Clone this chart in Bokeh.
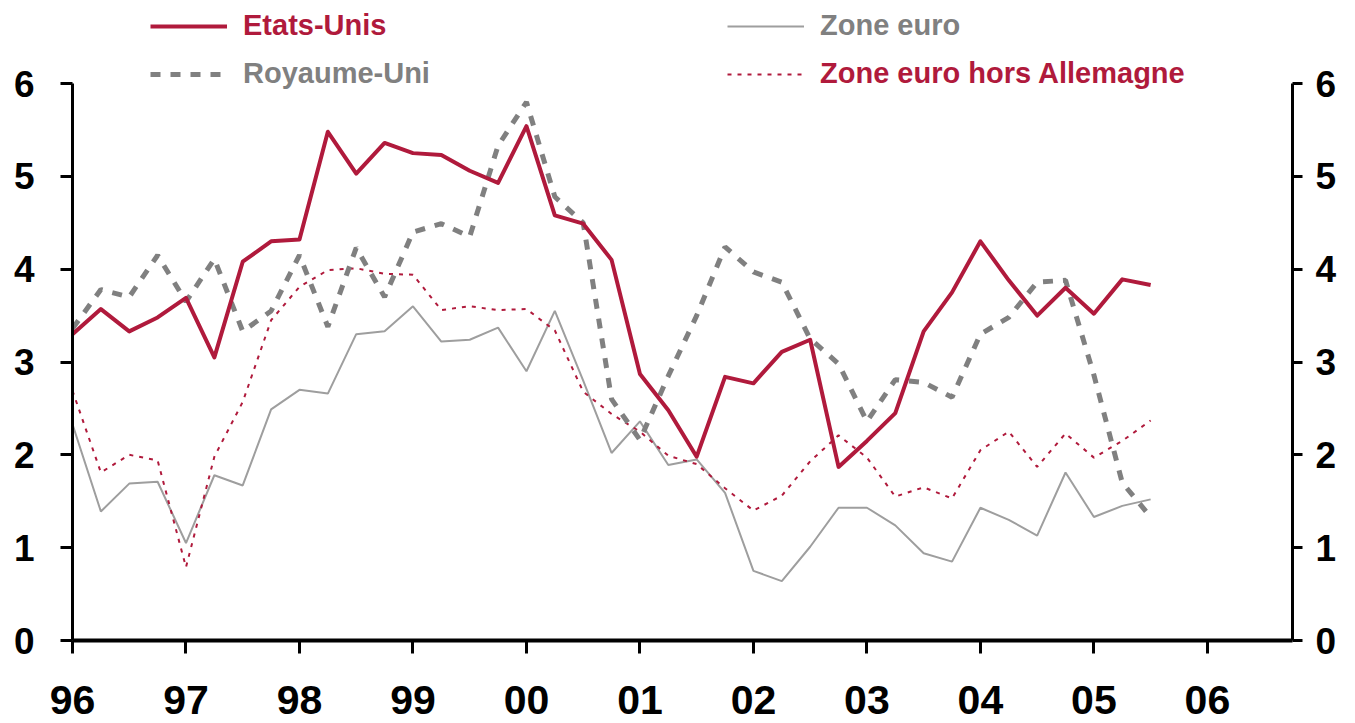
from bokeh.plotting import figure
from bokeh.models import LinearAxis, FixedTicker, Legend, LegendItem, Range1d
from bokeh.embed import file_html
from bokeh.resources import INLINE

# ---- data (quarterly, 1996Q1 .. 2005Q3) ----
start_year = 1996
n_quarters = 39
etats_unis = [3.30, 3.57, 3.33, 3.48, 3.69, 3.05, 4.08, 4.30,
              4.32, 5.48, 5.03, 5.36, 5.25, 5.23, 5.06, 4.93,
              5.54, 4.58, 4.49, 4.10, 2.87, 2.48, 1.98, 2.84,
              2.77, 3.11, 3.24, 1.87, 2.15, 2.45, 3.33, 3.75,
              4.30, 3.88, 3.50, 3.80, 3.52, 3.89, 3.83]
royaume_uni = [3.36, 3.78, 3.70, 4.15, 3.65, 4.11, 3.33, 3.55,
               4.15, 3.38, 4.23, 3.70, 4.40, 4.49, 4.35, 5.33,
               5.80, 4.78, 4.50, 2.60, 2.16, 2.85, 3.50, 4.24,
               3.97, 3.86, 3.25, 2.98, 2.36, 2.81, 2.78, 2.62,
               3.30, 3.48, 3.86, 3.88, 2.86, 1.70, 1.33]
zone_euro = [2.33, 1.39, 1.69, 1.71, 1.05, 1.78, 1.67, 2.49,
             2.70, 2.66, 3.30, 3.33, 3.60, 3.22, 3.24, 3.37,
             2.90, 3.55, 2.80, 2.02, 2.36, 1.89, 1.95, 1.59,
             0.75, 0.64, 1.01, 1.43, 1.43, 1.24, 0.94, 0.85,
             1.43, 1.30, 1.13, 1.81, 1.33, 1.45, 1.52]
zone_euro_hors_all = [2.69, 1.81, 2.00, 1.94, 0.79, 1.98, 2.57, 3.45,
                      3.81, 3.99, 4.01, 3.95, 3.94, 3.56, 3.60, 3.56,
                      3.57, 3.34, 2.68, 2.44, 2.25, 1.99, 1.90, 1.64,
                      1.40, 1.56, 1.93, 2.21, 1.97, 1.55, 1.65, 1.53,
                      2.05, 2.25, 1.87, 2.23, 1.97, 2.15, 2.37]
year_ticks = list(range(1996, 2007))
year_labels = ["96", "97", "98", "99", "00", "01", "02", "03", "04", "05", "06"]
y_ticks = [0, 1, 2, 3, 4, 5, 6]
y_min, y_max = 0, 6

x = [start_year + i / 4 for i in range(n_quarters)]

RED = "#B01A3C"
GRAY = "#808080"
LGRAY = "#9E9E9E"
FONT = "Liberation Sans"

# frame extends above the y axis top so the legend can sit inside it
TOP_PAD = 83          # px between canvas top and y = 6
FRAME_H = 640         # px from canvas top to y = 0
y_top = y_max + (y_max - y_min) * TOP_PAD / (FRAME_H - TOP_PAD)

p = figure(width=1339, height=723, output_backend="svg", toolbar_location=None,
           x_range=Range1d(1996, 2006.75), y_range=Range1d(y_min, y_top),
           min_border_left=72, min_border_right=47, min_border_top=0,
           min_border_bottom=83, y_axis_location=None, x_axis_location=None)
p.outline_line_color = None
p.grid.grid_line_color = None
p.background_fill_color = "white"

r_ze = p.line(x, zone_euro, line_color=LGRAY, line_width=2)
r_zh = p.line(x, zone_euro_hors_all, line_color=RED, line_width=2, line_dash="4 6")
r_uk = p.line(x, royaume_uni, line_color=GRAY, line_width=5, line_dash="10 10")
r_us = p.line(x, etats_unis, line_color=RED, line_width=4, line_join="round")

def style_axis(ax, tick_out, lw):
    ax.axis_line_width = lw
    ax.axis_line_color = "black"
    ax.major_tick_line_width = 3
    ax.major_tick_line_color = "black"
    ax.major_tick_out = tick_out
    ax.major_tick_in = 0
    ax.minor_tick_line_color = None
    ax.major_label_text_font = FONT
    ax.major_label_text_font_style = "bold"
    ax.major_label_text_color = "black"

xaxis = LinearAxis(ticker=FixedTicker(ticks=year_ticks),
                   major_label_overrides={t: l for t, l in zip(year_ticks, year_labels)})
style_axis(xaxis, 13, 4)
xaxis.major_label_text_font_size = "41px"
xaxis.major_label_text_line_height = 0.7
xaxis.major_label_standoff = 32
p.add_layout(xaxis, "below")

yl = LinearAxis(ticker=FixedTicker(ticks=y_ticks), bounds=(y_min, y_max))
style_axis(yl, 12, 3)
yl.major_label_text_font_size = "37px"
yl.major_label_standoff = 26
p.add_layout(yl, "left")

yr = LinearAxis(ticker=FixedTicker(ticks=y_ticks), bounds=(y_min, y_max))
style_axis(yr, 10, 3)
yr.major_label_text_font_size = "37px"
yr.major_label_standoff = 13
p.add_layout(yr, "right")

def make_legend(label, rend, color, loc):
    lg = Legend(items=[LegendItem(label=label, renderers=[rend])], location=loc,
                label_text_color=color, label_text_font=FONT,
                label_text_font_style="bold", label_text_font_size="29px",
                glyph_width=77, glyph_height=30, label_height=30,
                label_standoff=16, padding=0, margin=0, spacing=0,
                background_fill_alpha=0, border_line_alpha=0)
    p.add_layout(lg)

make_legend("Etats-Unis", r_us, RED, (78, 598))
make_legend("Royaume-Uni", r_uk, GRAY, (78, 550))
make_legend("Zone euro", r_ze, GRAY, (655, 598))
make_legend("Zone euro hors Allemagne", r_zh, RED, (655, 550))

open("out.html", "w").write(file_html(p, INLINE))
